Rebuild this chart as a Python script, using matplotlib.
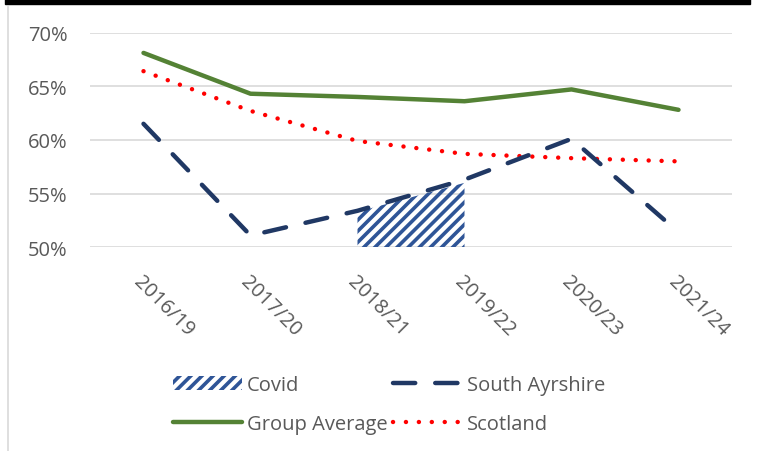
import numpy as np
import matplotlib
matplotlib.use("Agg")
import matplotlib.pyplot as plt
from matplotlib.patches import Patch
from matplotlib.lines import Line2D

# data
years = ["2016/19", "2017/20", "2018/21", "2019/22", "2020/23", "2021/24"]
group_avg = [68.1, 64.3, 64.0, 63.6, 64.7, 62.8]
scotland = [66.4, 62.7, 59.9, 58.7, 58.3, 58.0]
south_ayrshire = [61.5, 51.1, 53.4, 56.3, 60.1, 51.4]
covid = [np.nan, np.nan, 53.3, 56.0, np.nan, np.nan]

plt.rcParams['font.family'] = ['Open Sans', 'DejaVu Sans']
plt.rcParams['hatch.linewidth'] = 2.6
plt.rcParams['hatch.color'] = '#2F5597'

fig = plt.figure(figsize=(7.57, 4.52), dpi=100)
ax = fig.add_axes([90/757, 1 - 248.3/452, 642/757, (248.3 - 33.5)/452])

x = np.arange(len(years))
cov = np.array(covid)
ax.fill_between(x, 50, cov, where=~np.isnan(cov), facecolor='none',
                edgecolor='#2F5597', hatch='///', linewidth=0, zorder=2)

ax.plot(x, group_avg, color='#548235', lw=3.2, solid_capstyle='round', zorder=3)
ax.plot(x, scotland, color='#FF0000', lw=3.2, linestyle=(0, (0.01, 2.9)),
        dash_capstyle='round', zorder=3)
ax.plot(x, south_ayrshire, color='#203864', lw=3.2, linestyle=(0, (5, 4.5)),
        dash_capstyle='round', zorder=4)

ax.set_xlim(-0.5, len(years) - 0.5)
ax.set_ylim(50, 70)
ax.set_yticks([50, 55, 60, 65, 70])
ax.set_yticklabels([f"{v}%" for v in [50, 55, 60, 65, 70]])
ax.grid(axis='y', color='#D9D9D9', lw=1.2)
ax.set_axisbelow(True)
for s in ax.spines.values():
    s.set_visible(False)
ax.tick_params(axis='both', length=0, colors='#595959', labelsize=14.5)
ax.tick_params(axis='y', pad=16)
ax.set_xticks(x)
ax.set_xticklabels(years, rotation=-45, ha='left', va='top', rotation_mode='anchor')
ax.tick_params(axis='x', pad=17)

handles = [
    Patch(facecolor='none', edgecolor='#2F5597', hatch='///', linewidth=0),
    Line2D([], [], color='#548235', lw=3.2, solid_capstyle='round'),
    Line2D([], [], color='#203864', lw=3.2, linestyle=(0, (5, 4.5)), dash_capstyle='round'),
    Line2D([], [], color='#FF0000', lw=3.2, linestyle=(0, (0.01, 2.9)), dash_capstyle='round'),
]
labels = ["Covid", "Group Average", "South Ayrshire", "Scotland"]
leg = fig.legend(handles, labels, ncol=2, loc='upper left',
                 bbox_to_anchor=(155/757, 1 - 358/452), frameon=False,
                 fontsize=14.5, handlelength=3.4, handletextpad=0.25,
                 columnspacing=0.3, labelspacing=0.95, labelcolor='#595959')

# frame bits from the original screenshot
fig.add_artist(plt.Rectangle((5/757, 1 - 5/452), 745/757, 5/452,
                             transform=fig.transFigure, color='black'))
fig.add_artist(Line2D([8/757, 8/757], [0, 1 - 8/452], transform=fig.transFigure,
                      color='#D9D9D9', lw=1.2))

fig.savefig("out.png", dpi=100)
